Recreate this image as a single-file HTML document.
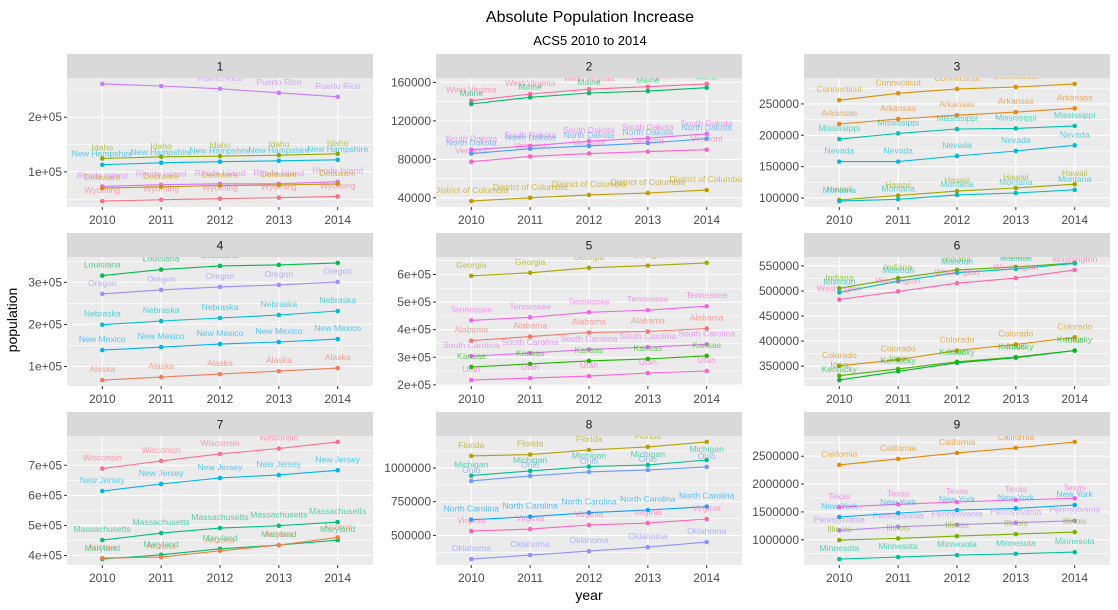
<!DOCTYPE html>
<html><head><meta charset="utf-8"><style>
body{margin:0;background:#fff;}
svg{display:block;font-family:"Liberation Sans",sans-serif;}
</style></head><body>
<svg id="chart" width="1118" height="610" viewBox="0 0 1118 610" xmlns="http://www.w3.org/2000/svg">
<text x="590" y="22" text-anchor="middle" font-size="16" fill="#000">Absolute Population Increase</text>
<text x="590" y="45" text-anchor="middle" font-size="13" fill="#000">ACS5 2010 to 2014</text>
<text transform="translate(17,320) rotate(-90)" text-anchor="middle" font-size="14" fill="#000">population</text>
<text x="589" y="600" text-anchor="middle" font-size="14" fill="#000">year</text>
<g id="panels"></g>
</svg>
<script>
const years = [2010, 2011, 2012, 2013, 2014];
const allStates = ["Alabama","Alaska","Arizona","Arkansas","California","Colorado","Connecticut","Delaware","District of Columbia","Florida","Georgia","Hawaii","Idaho","Illinois","Indiana","Iowa","Kansas","Kentucky","Louisiana","Maine","Maryland","Massachusetts","Michigan","Minnesota","Mississippi","Missouri","Montana","Nebraska","Nevada","New Hampshire","New Jersey","New Mexico","New York","North Carolina","North Dakota","Ohio","Oklahoma","Oregon","Pennsylvania","Puerto Rico","Rhode Island","South Carolina","South Dakota","Tennessee","Texas","Utah","Vermont","Virginia","Washington","West Virginia","Wisconsin","Wyoming"];

const panel1States = ["Puerto Rico","Idaho","New Hampshire","Rhode Island","Delaware","Wyoming"];
const panel1Values = [[261000,257000,252000,244600,237300],[124500,127600,128700,130500,133000],[113000,116600,118500,120300,122000],[73300,76400,78200,78200,81900],[70200,72700,75100,76000,77900],[46400,49000,50800,52700,55000]];
const panel1Ticks = [100000,200000];
const panel1TickLabels = ["1e+05","2e+05"];

const panel2States = ["West Virginia","Maine","South Dakota","North Dakota","Vermont","District of Columbia"];
const panel2Values = [[141000,148000,153000,155500,158500],[137500,144500,149000,151000,154500],[90000,94000,99000,102000,106500],[86000,91000,94000,97000,101500],[77500,83000,86000,88000,90000],[36500,40000,43000,45000,48000]];
const panel2Ticks = [40000,80000,120000,160000];
const panel2TickLabels = ["40000","80000","120000","160000"];

const panel3States = ["Connecticut","Arkansas","Mississippi","Nevada","Hawaii","Montana"];
const panel3Values = [[256000,267000,274000,277000,282000],[218000,226000,232000,237000,243000],[194000,203000,210000,211000,215000],[158000,158000,167000,175000,184000],[97000,104000,111000,116000,122000],[95000,98000,105000,108000,113000]];
const panel3Ticks = [100000,150000,200000,250000];
const panel3TickLabels = ["100000","150000","200000","250000"];

const panel4States = ["Louisiana","Oregon","Nebraska","New Mexico","Alaska"];
const panel4Values = [[315900,330200,339000,341400,346200],[272400,281900,289000,293800,301000],[199300,208100,215200,222400,231900],[139000,146200,153300,158100,165200],[67600,74800,81900,89000,96200]];
const panel4Ticks = [100000,200000,300000];
const panel4TickLabels = ["1e+05","2e+05","3e+05"];

const panel5States = ["Georgia","Tennessee","Alabama","South Carolina","Kansas","Utah"];
const panel5Values = [[595000,606000,624000,632000,642000],[433700,444700,463000,470400,485000],[360300,375000,389600,393300,404300],[304000,315000,328500,337000,346800],[264900,275900,286900,294200,305200],[217200,224500,231900,242900,250200]];
const panel5Ticks = [200000,300000,400000,500000,600000];
const panel5TickLabels = ["2e+05","3e+05","4e+05","5e+05","6e+05"];

const panel6States = ["Indiana","Missouri","Washington","Colorado","Iowa","Kentucky"];
const panel6Values = [[505300,525600,541900,548000,556000],[497100,519500,536400,543900,555000],[482900,499100,515400,525600,541900],[350700,362900,381200,393400,407600],[331000,344600,358800,368300,381200],[322200,339800,356800,367000,381000]];
const panel6Ticks = [350000,400000,450000,500000,550000];
const panel6TickLabels = ["350000","400000","450000","500000","550000"];

const panel7States = ["Wisconsin","New Jersey","Massachusetts","Maryland","Arizona"];
const panel7Values = [[688900,714400,737800,755600,777800],[614400,637800,657800,667800,683300],[451100,474500,491100,498900,511100],[387800,402200,422200,434500,451100],[391100,394500,415600,434500,460000]];
const panel7Ticks = [400000,500000,600000,700000];
const panel7TickLabels = ["4e+05","5e+05","6e+05","7e+05"];

const panel8States = ["Florida","Michigan","Ohio","North Carolina","Virginia","Oklahoma"];
const panel8Values = [[1089000,1099000,1133600,1156000,1193000],[943000,978000,1010000,1022000,1059000],[903500,940600,970300,985000,1007400],[616400,638600,668300,688000,712900],[532200,547000,576800,591600,621300],[324300,354000,383700,413400,450500]];
const panel8Ticks = [500000,750000,1000000];
const panel8TickLabels = ["500000","750000","1000000"];

const panel9States = ["California","Texas","New York","Pennsylvania","Illinois","Minnesota"];
const panel9Values = [[2344000,2452000,2560000,2650000,2758000],[1588000,1636000,1678000,1714000,1744000],[1408000,1480000,1534000,1564000,1624000],[1168000,1234000,1270000,1306000,1342000],[994000,1024000,1066000,1102000,1138000],[652000,688000,724000,748000,778000]];
const panel9Ticks = [1000000,1500000,2000000,2500000];
const panel9TickLabels = ["1000000","1500000","2000000","2500000"];

const panelStates = [panel1States,panel2States,panel3States,panel4States,panel5States,panel6States,panel7States,panel8States,panel9States];
const panelValues = [panel1Values,panel2Values,panel3Values,panel4Values,panel5Values,panel6Values,panel7Values,panel8Values,panel9Values];
const panelTicks = [panel1Ticks,panel2Ticks,panel3Ticks,panel4Ticks,panel5Ticks,panel6Ticks,panel7Ticks,panel8Ticks,panel9Ticks];
const panelTickLabels = [panel1TickLabels,panel2TickLabels,panel3TickLabels,panel4TickLabels,panel5TickLabels,panel6TickLabels,panel7TickLabels,panel8TickLabels,panel9TickLabels];

function hcl(h){
  const L=65,C=100,hr=h*Math.PI/180;
  const u=C*Math.cos(hr),v=C*Math.sin(hr);
  const Y=Math.pow((L+16)/116,3);
  const Xn=0.95047,Yn=1,Zn=1.08883;
  const un=4*Xn/(Xn+15*Yn+3*Zn),vn=9*Yn/(Xn+15*Yn+3*Zn);
  const up=u/(13*L)+un,vp=v/(13*L)+vn;
  const X=Y*9*up/(4*vp),Z=Y*(12-3*up-20*vp)/(4*vp);
  let r=3.2406*X-1.5372*Y-0.4986*Z,g=-0.9689*X+1.8758*Y+0.0415*Z,b=0.0557*X-0.2040*Y+1.0570*Z;
  const gm=c=>{c=c<=0.0031308?12.92*c:1.055*Math.pow(c,1/2.4)-0.055;return Math.round(Math.max(0,Math.min(1,c))*255);};
  return `rgb(${gm(r)},${gm(g)},${gm(b)})`;
}
function colorOf(s){const i=allStates.indexOf(s);return hcl(15+360*i/allStates.length);}

const NS="http://www.w3.org/2000/svg";
const root=document.getElementById('panels');
function mk(tag,attrs,parent){const e=document.createElementNS(NS,tag);for(const k in attrs)e.setAttribute(k,attrs[k]);(parent||root).appendChild(e);return e;}

const colX=[[67,373],[436,742],[804,1110]];
const rowY=[[54,78,207],[233,257,386],[412,436,565]];

for(let p=0;p<9;p++){
  const col=p%3,row=Math.floor(p/3);
  const [x0,x1]=colX[col];const [sTop,y0,y1]=rowY[row];
  const vals=panelValues[p];
  let mn=Infinity,mx=-Infinity;vals.forEach(a=>a.forEach(v=>{mn=Math.min(mn,v);mx=Math.max(mx,v);}));
  const pad=(mx-mn)*0.05;const lo=mn-pad,hi=mx+pad;
  const yS=v=>y1-(v-lo)/(hi-lo)*(y1-y0);
  const xS=yr=>x0+(yr-2009.4)/5.2*(x1-x0);
  const g=mk('g',{});
  
  
  const strip=mk('rect',{x:x0,y:sTop,width:x1-x0,height:y0-sTop,fill:'#d9d9d9'},g);
  
  
  const st=mk('text',{x:(x0+x1)/2,y:(sTop+y0)/2+4.5,'text-anchor':'middle','font-size':'12',fill:'#1a1a1a'},g);
  st.textContent=String(p+1);
  
  
  const bg=mk('rect',{x:x0,y:y0,width:x1-x0,height:y1-y0,fill:'#ebebeb'},g);
  
  
  const ticks=panelTicks[p];const step=ticks[1]-ticks[0];
  for(let m=ticks[0]-step/2;m<=hi;m+=step){ if(m>=lo){const l=mk('line',{x1:x0,x2:x1,y1:yS(m),y2:yS(m),stroke:'#fff','stroke-width':0.6},g);}}
  ticks.forEach((t,i)=>{
    const y=yS(t);
    const l=mk('line',{x1:x0,x2:x1,y1:y,y2:y,stroke:'#fff','stroke-width':1.1},g);
    
    
    const tk=mk('line',{x1:x0-3,x2:x0,y1:y,y2:y,stroke:'#333','stroke-width':1},g);
    
    
    const tl=mk('text',{x:x0-5,y:y+4,'text-anchor':'end','font-size':'12',fill:'#4d4d4d'},g);
    tl.textContent=panelTickLabels[p][i];
    
    
  });
  years.forEach(yr=>{
    const x=xS(yr);
    const l=mk('line',{x1:x,x2:x,y1:y0,y2:y1,stroke:'#fff','stroke-width':1.1},g);
    
    
    const tk=mk('line',{x1:x,x2:x,y1:y1,y2:y1+3,stroke:'#333','stroke-width':1},g);
    
    
    const tl=mk('text',{x:x,y:y1+17,'text-anchor':'middle','font-size':'12',fill:'#4d4d4d'},g);
    tl.textContent=String(yr);
    
    
  });
  const cp='clip'+p;
  const cl=mk('clipPath',{id:cp},g);mk('rect',{x:x0,y:y0,width:x1-x0,height:y1-y0},cl);
  const sg=mk('g',{'clip-path':'url(#'+cp+')'},g);
  panelStates[p].forEach((s,si)=>{
    const c=colorOf(s);const arr=vals[si];
    const pts=arr.map((v,i)=>xS(years[i]).toFixed(1)+','+yS(v).toFixed(1)).join(' ');
    const pl=mk('polyline',{points:pts,fill:'none',stroke:c,'stroke-width':1.1},sg);
    
    
    arr.forEach((v,i)=>{
      const pt=mk('circle',{cx:xS(years[i]),cy:yS(v),r:2.3,fill:c},sg);
      
      
      const lb=mk('text',{x:xS(years[i]),y:yS(v)-8,'text-anchor':'middle','font-size':'8.6',fill:c,'fill-opacity':0.65},sg);
      lb.textContent=s;
      
      
    });
  });
}
</script>
</body></html>
